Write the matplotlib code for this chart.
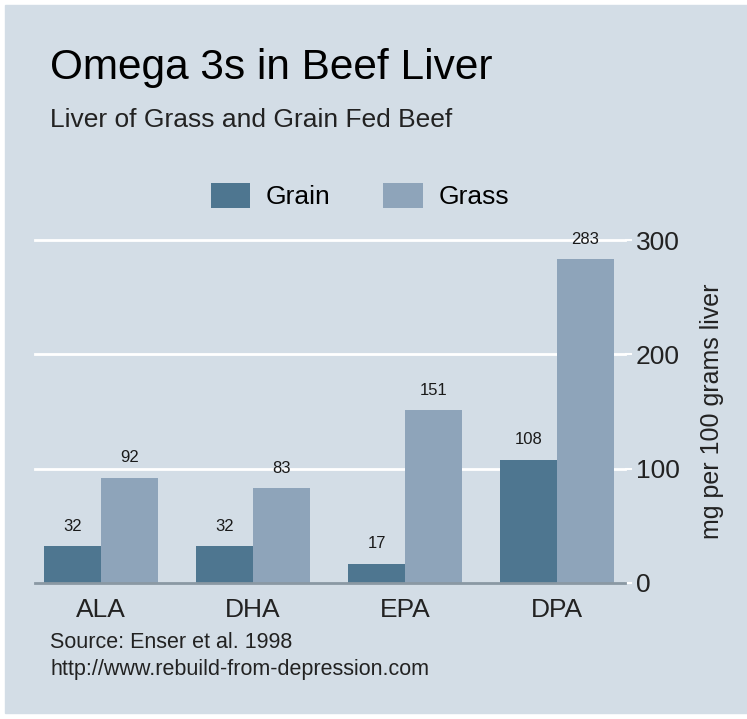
import matplotlib.pyplot as plt
import numpy as np
from matplotlib.patches import Rectangle

plt.rcParams["font.family"] = ["Liberation Sans", "DejaVu Sans"]

acids = ["ALA", "DHA", "EPA", "DPA"]
grain = [32, 32, 17, 108]
grass = [92, 83, 151, 283]
yticks = [0, 100, 200, 300]

bg = "#d3dde6"
c_grain = "#4e7690"
c_grass = "#8ea4ba"

fig = plt.figure(figsize=(7.47, 7.19), dpi=100)
fig.patch.set_facecolor("white")
fig.patches.append(Rectangle((5 / 747, 6 / 719), 1, 1 - 11 / 719,
                             transform=fig.transFigure, color=bg, zorder=-10))

ax = fig.add_axes([35 / 747, 136 / 719, 590 / 747, 343 / 719])
ax.patch.set_alpha(0)

x = np.arange(len(acids))
w = 0.372
b1 = ax.bar(x - w / 2, grain, w, color=c_grain, label="Grain", zorder=3)
b2 = ax.bar(x + w / 2, grass, w, color=c_grass, label="Grass", zorder=3)

for bars in (b1, b2):
    for r in bars:
        ax.annotate(f"{r.get_height():.0f}", (r.get_x() + r.get_width() / 2, r.get_height()),
                    xytext=(0, 9), textcoords="offset points", ha="center", va="bottom",
                    fontsize=12, color="#1a1a1a", zorder=4, annotation_clip=False)

ax.set_xlim(-0.434, 3.447)
ax.set_ylim(0, 300)
ax.set_yticks(yticks)
ax.yaxis.tick_right()
ax.yaxis.set_label_position("right")
ax.tick_params(axis="y", length=5, width=1.5, color="white", labelsize=19,
               labelcolor="#222222", pad=3)
ax.set_xticks(x)
ax.set_xticklabels(acids)
ax.tick_params(axis="x", length=0, labelsize=19, labelcolor="#222222", pad=11)
ax.set_ylabel("mg per 100 grams liver", fontsize=18, color="#222222", labelpad=14)

for v in yticks[1:]:
    ax.axhline(v, color="white", lw=2, zorder=1, clip_on=False)
ax.axhline(0, color="#8a98a3", lw=2, zorder=4, clip_on=False)
for s in ax.spines.values():
    s.set_visible(False)

fig.text(50 / 747, 1 - 68 / 719, "Omega 3s in Beef Liver", fontsize=30.5,
         va="center", ha="left", color="black")
fig.text(50 / 747, 1 - 120 / 719, "Liver of Grass and Grain Fed Beef", fontsize=19,
         va="center", ha="left", color="#222222")

fig.legend(handles=[b1, b2], loc="center", bbox_to_anchor=(360 / 747, 1 - 196 / 719),
           ncol=2, frameon=False, fontsize=19, handlelength=1.5, handleheight=1.1,
           columnspacing=2.0, handletextpad=0.6)

fig.text(50 / 747, 1 - 643 / 719, "Source: Enser et al. 1998", fontsize=15.5,
         va="center", ha="left", color="#222222")
fig.text(50 / 747, 1 - 670 / 719, "http://www.rebuild-from-depression.com", fontsize=15.5,
         va="center", ha="left", color="#222222")

fig.savefig("out.png", dpi=100)
